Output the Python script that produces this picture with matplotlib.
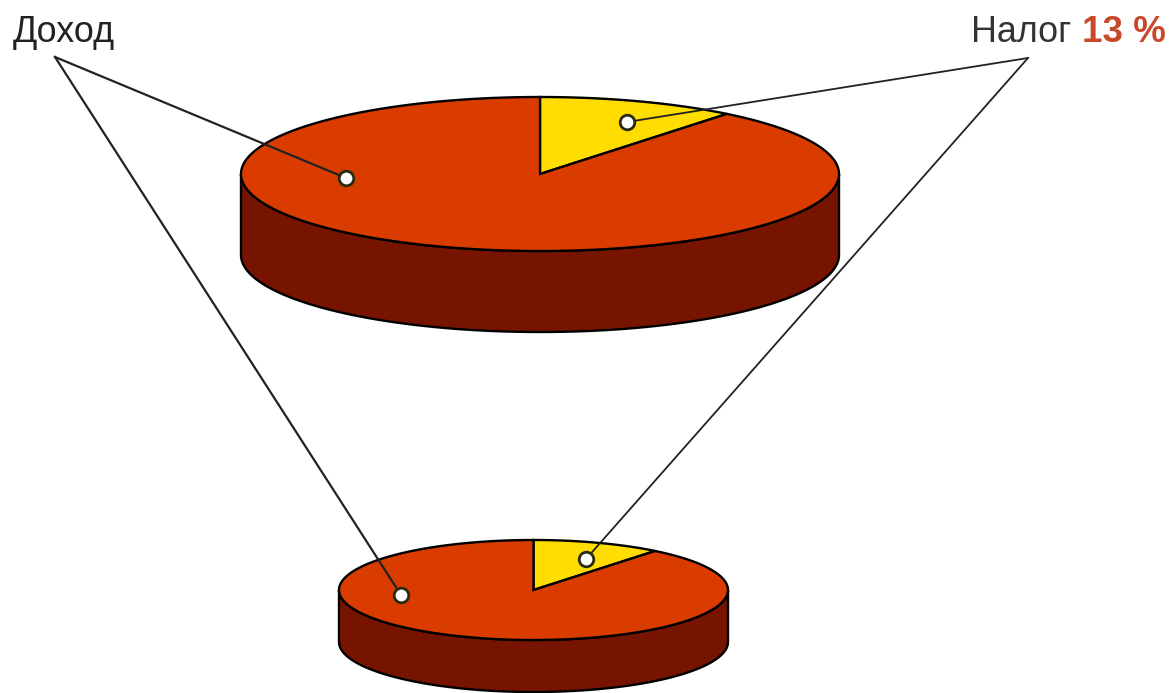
import matplotlib
matplotlib.use("Agg")
import matplotlib.pyplot as plt
import numpy as np
from matplotlib.patches import Polygon

plt.rcParams['font.family'] = ['Liberation Sans', 'DejaVu Sans']

# data
labels = ["Доход", "Налог"]
shares = [89.25, 10.75]   # slice size as drawn in the picture
tax_text = "13 %"
colors = ["#DA3C00", "#FFDD00"]
side_color = "#771400"
tax_color = "#C8492A"

# pie geometry, pixels: cx, cy, rx, ry, depth
big_pie = (540, 174, 299, 77, 81)
small_pie = (533.5, 590, 194.5, 50, 52)

# leader lines, pixels
income_apex = (55, 57)
income_dots = [(346, 178), (401, 595)]
tax_apex = (1028, 58)
tax_dots = [(627, 122), (586, 559)]


def ellipse_xy(pie, deg):
    cx, cy, rx, ry, _ = pie
    t = np.radians(deg)
    return cx + rx * np.cos(t), cy - ry * np.sin(t)


def draw_pie(ax, pie):
    cx, cy, rx, ry, depth = pie
    # side wall
    x, y = ellipse_xy(pie, np.linspace(180, 360, 200))
    wall = np.column_stack([np.r_[x, x[::-1]], np.r_[y + depth, y[::-1]]])
    ax.add_patch(Polygon(wall, closed=True, fc=side_color, ec="black", lw=1.7, zorder=2))
    # top slices, clockwise from twelve o'clock, tax slice first
    start = 90
    for i in [1, 0]:
        sweep = shares[i] / sum(shares) * 360
        x, y = ellipse_xy(pie, np.linspace(start, start - sweep, 300))
        pts = np.column_stack([np.r_[cx, x], np.r_[cy, y]])
        ax.add_patch(Polygon(pts, closed=True, fc=colors[i], ec="black", lw=1.7,
                             joinstyle="miter", zorder=3))
        start -= sweep


fig = plt.figure(figsize=(11.7, 6.93), dpi=100)
ax = fig.add_axes([0, 0, 1, 1])
ax.set_xlim(0, 1170)
ax.set_ylim(693, 0)
ax.axis("off")

draw_pie(ax, big_pie)
draw_pie(ax, small_pie)

for dot in income_dots:
    ax.plot([income_apex[0], dot[0]], [income_apex[1], dot[1]], color="#222222", lw=1.6, zorder=4)
for dot in tax_dots:
    ax.plot([tax_apex[0], dot[0]], [tax_apex[1], dot[1]], color="#222222", lw=1.3, zorder=4)

for dot in income_dots + tax_dots:
    ax.plot(dot[0], dot[1], "o", ms=10.5, mfc="white", mec="#2a2a10", mew=2, zorder=5)

ax.text(13, 42.5, labels[0], fontsize=25.8, color="#222222", ha="left", va="baseline")
ax.text(1071, 42.5, labels[1], fontsize=25.8, color="#333333", ha="right", va="baseline")
ax.text(1166, 42.5, tax_text, fontsize=26.5, fontweight="bold", color=tax_color, ha="right", va="baseline")

fig.savefig("out.png", dpi=100)
